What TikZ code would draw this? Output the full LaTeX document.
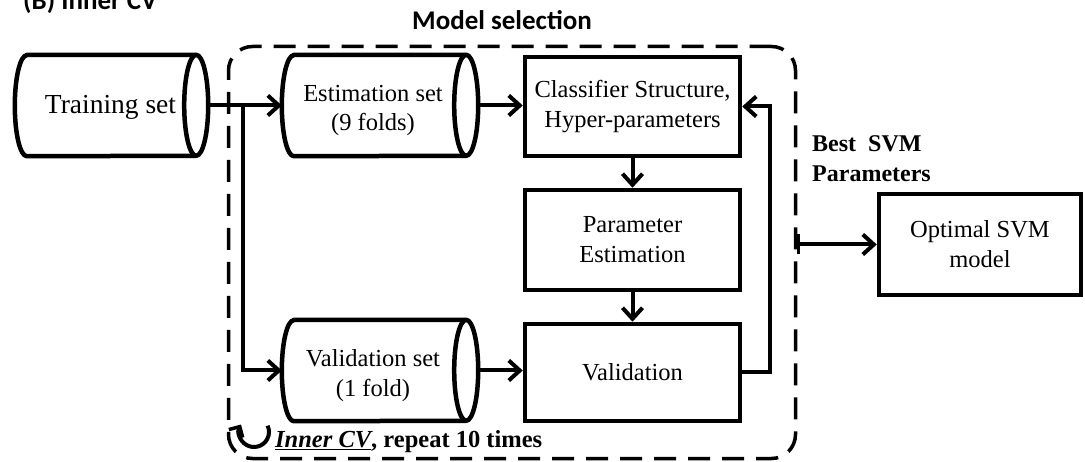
\documentclass[tikz,border=0pt]{standalone}
\usepackage{fontspec}
\setmainfont{Liberation Serif}
\newfontfamily\calib{Carlito}
\usetikzlibrary{arrows.meta,calc}
\newcommand\mycyl[1]{%
  \draw[lw] ([xshift=12pt]#1.north west) -- ([xshift=-12pt]#1.north east)
    arc[start angle=90,end angle=-90,x radius=12pt,y radius=50.5pt]
    -- ([xshift=12pt]#1.south west)
    arc[start angle=270,end angle=90,x radius=12pt,y radius=50.5pt] -- cycle;
  \draw[lw] ([xshift=-12pt]#1.north east)
    arc[start angle=90,end angle=270,x radius=12pt,y radius=50.5pt];}
\tikzset{mytip/.tip={Straight Barb[length=11pt,width=20pt,line width=4pt]}}
\begin{document}
\begin{tikzpicture}[x=1pt,y=-1pt,
  lw/.style={line width=4.5pt,line join=round},
  txt/.style={font=\fontsize{24.5}{30}\selectfont,align=center},
  boxn/.style={txt,draw,line width=4.5pt,inner sep=0,minimum width=215pt},
  cyln/.style={inner sep=0,minimum height=101pt},
  arr/.style={line width=4pt,-{mytip}}]
\useasboundingbox (0,0) rectangle (1085,462);
\fill[white] (0,0) rectangle (1085,462);
% headings
\node[anchor=base west,font=\calib\bfseries\fontsize{27}{30}\selectfont,inner sep=0] (hb) at (23,10) {(B) Inner CV};
\node[anchor=base,font=\calib\bfseries\fontsize{27}{30}\selectfont,inner sep=0] (hm) at (502,30) {Model selection};
% dashed model selection box
\node[draw,line width=3.5pt,dash pattern=on 22pt off 12pt,rounded corners=24pt,
      minimum width=567pt,minimum height=412pt,inner sep=0] (ms) at (512,252.5) {};
% cylinders
\node[cyln,minimum width=193pt,
      label={[txt,font=\fontsize{27.5}{32}\selectfont,xshift=-1pt,yshift=-2pt]center:Training set}] (train) at (111.5,105.5) {};
\mycyl{train}
\node[cyln,minimum width=196pt,
      label={[txt,xshift=-7pt,yshift=-5pt]center:Estimation set\\(9 folds)}] (est) at (380,105.5) {};
\mycyl{est}
\node[cyln,minimum width=196pt,
      label={[txt,xshift=-7pt,yshift=-5pt]center:Validation set\\(1 fold)}] (vset) at (380,370.5) {};
\mycyl{vset}
% boxes
\node[boxn,minimum height=99pt] (cls) at (632.5,106.5) {Classifier Structure,\\Hyper-parameters};
\node[boxn,minimum height=100pt] (par) at (632.5,240) {Parameter\\Estimation};
\node[boxn,minimum height=97pt] (val) at (632.5,372.5) {Validation};
\node[boxn,minimum width=202pt,minimum height=101pt] (opt) at (980,244.5) {Optimal SVM\\model};
% labels
\node[anchor=base west,font=\bfseries\fontsize{24}{30}\selectfont,align=left,inner sep=0] (best) at (812,182) {Best~~SVM\\Parameters};
% connectors
\coordinate (j1) at (243,105.5);
\draw[arr] (train.east) -- (est.west);
\draw[arr] (j1) |- (vset.west);
\draw[arr] (est.east) -- (cls.west |- est.east);
\draw[arr] (vset.east) -- (val.west |- vset.east);
\draw[arr] (cls.south) -- (par.north);
\draw[arr] (par.south) -- (val.north);
\draw[arr] (val.east) -- ++(28,0) |- (cls.east);
\draw[line width=4pt,{Bar[width=20pt,line width=3pt]}-{mytip}] (ms.east |- opt.west) -- (opt.west);
% inner CV loop label
\coordinate (cv) at (254,432);
\draw[line width=4pt,{Straight Barb[length=8pt,width=16pt,line width=3.5pt]}-]
  ($(cv)+(150:15pt)$) arc[start angle=150,end angle=385,radius=15pt];
\node[anchor=base west,font=\bfseries\fontsize{24.5}{28}\selectfont,inner sep=0] (cvt) at (275,447)
  {\textit{\underline{Inner CV}}, repeat 10 times};
\end{tikzpicture}
\end{document}
